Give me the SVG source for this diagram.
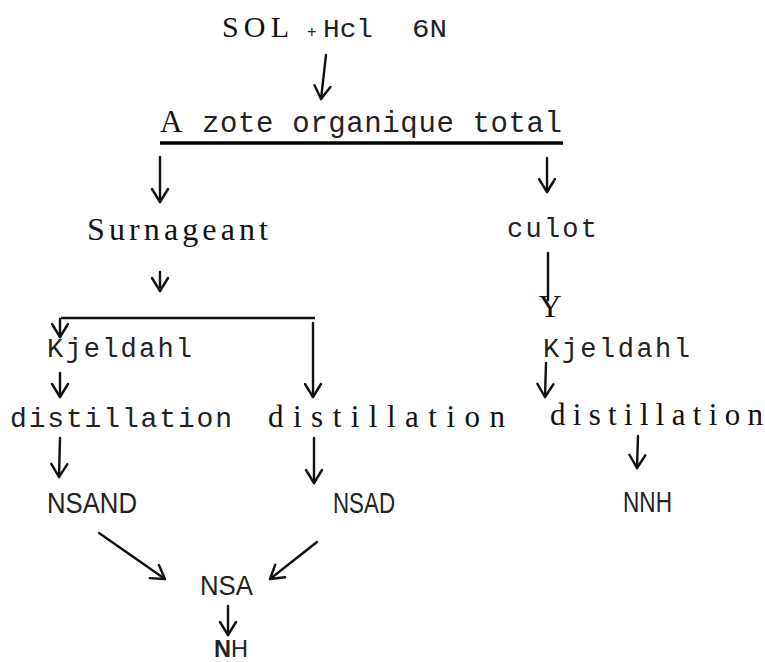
<svg xmlns="http://www.w3.org/2000/svg" width="765" height="662" viewBox="0 0 765 662">
<style>
.serif{font-family:"Liberation Serif","Times New Roman",serif;fill:#111}
.mono{font-family:"Liberation Mono","DejaVu Sans Mono",monospace;fill:#222}
.cond{font-family:"Liberation Sans","DejaVu Sans",sans-serif;fill:#222}
.c{fill:none;stroke:#111;stroke-width:2.4;stroke-linecap:round}
</style>
<defs>
<marker id="ah" markerUnits="userSpaceOnUse" markerWidth="30" markerHeight="30" refX="0" refY="0" viewBox="-15 -15 30 30" orient="auto" overflow="visible">
<path d="M-13,-8 L0,0 L-13,8" fill="none" stroke="#111" stroke-width="2.4" stroke-linecap="round" stroke-linejoin="round"/>
</marker>
</defs>
<rect width="765" height="662" fill="#fff"/>
<g id="sol">
<text class="serif" x="222" y="37" font-size="30" textLength="67" lengthAdjust="spacing">SOL</text>
<text class="mono" y="37" font-size="25"><tspan x="307" font-size="16">+</tspan><tspan x="323" textLength="50" lengthAdjust="spacingAndGlyphs">Hcl</tspan><tspan x="412" textLength="35" lengthAdjust="spacingAndGlyphs">6N</tspan></text>
</g>
<g id="azote">
<text class="serif" x="160" y="132" font-size="31">A</text>
<text class="mono" x="202" y="132" font-size="29" textLength="360" lengthAdjust="spacing">zote organique total</text>
<line x1="160" y1="143" x2="563" y2="143" stroke="#000" stroke-width="3.5"/>
</g>
<g id="surnageant"><text class="serif" x="87" y="240" font-size="32" textLength="181" lengthAdjust="spacing">Surnageant</text></g>
<g id="culot"><text class="mono" x="507" y="237" font-size="27" textLength="90" lengthAdjust="spacing">culot</text></g>
<g id="y"><text class="serif" x="550" y="317" font-size="32" text-anchor="middle">Y</text></g>
<g id="kjeldahl-left"><text class="mono" x="47" y="357" font-size="27" textLength="145" lengthAdjust="spacing">Kjeldahl</text></g>
<g id="kjeldahl-right"><text class="mono" x="543" y="357" font-size="27" textLength="147" lengthAdjust="spacing">Kjeldahl</text></g>
<g id="distillation-left"><text class="mono" x="10" y="427" font-size="28" textLength="222" lengthAdjust="spacing">distillation</text></g>
<g id="distillation-mid"><text class="serif" x="268" y="427" font-size="31" textLength="237" lengthAdjust="spacing">distillation</text></g>
<g id="distillation-right"><text class="serif" x="550" y="425" font-size="31" textLength="213" lengthAdjust="spacing">distillation</text></g>
<g id="nsand"><text class="cond" x="47" y="513" font-size="29" textLength="90" lengthAdjust="spacingAndGlyphs">NSAND</text></g>
<g id="nsad"><text class="cond" x="333" y="513" font-size="29" textLength="62" lengthAdjust="spacingAndGlyphs">NSAD</text></g>
<g id="nnh"><text class="cond" x="623" y="512" font-size="29" textLength="49" lengthAdjust="spacingAndGlyphs">NNH</text></g>
<g id="nsa"><text class="cond" x="200" y="595" font-size="27" textLength="53" lengthAdjust="spacingAndGlyphs">NSA</text></g>
<g id="nh"><text class="cond" x="214" y="657" font-size="24" textLength="34" lengthAdjust="spacingAndGlyphs"><tspan font-weight="bold">N</tspan>H</text></g>
<g id="connectors">
<path class="c" d="M326,55 L321,99" marker-end="url(#ah)"/>
<path class="c" d="M160,157 L160,202" marker-end="url(#ah)"/>
<path class="c" d="M547,158 L547,192" marker-end="url(#ah)" stroke-width="3.2"/>
<path class="c" d="M160,272 L160,291" marker-end="url(#ah)" stroke-width="1.6"/>
<line x1="61" y1="318" x2="315" y2="318" stroke="#111" stroke-width="2.6"/>
<path class="c" d="M60,319 L60,337" marker-end="url(#ah)"/>
<path class="c" d="M313,323 L313,397" marker-end="url(#ah)"/>
<path class="c" d="M548,253 L548,300"/>
<path class="c" d="M60,373 L60,397" marker-end="url(#ah)"/>
<path class="c" d="M546,363 L545,397" marker-end="url(#ah)"/>
<path class="c" d="M60,438 L59,477" marker-end="url(#ah)"/>
<path class="c" d="M314,438 L314,483" marker-end="url(#ah)"/>
<path class="c" d="M638,436 L637,468" marker-end="url(#ah)" stroke-width="3"/>
<path class="c" d="M99,533 L165,579" marker-end="url(#ah)"/>
<path class="c" d="M317,542 L270,579" marker-end="url(#ah)"/>
<path class="c" d="M228,606 L228,635" marker-end="url(#ah)"/>
</g>
</svg>
